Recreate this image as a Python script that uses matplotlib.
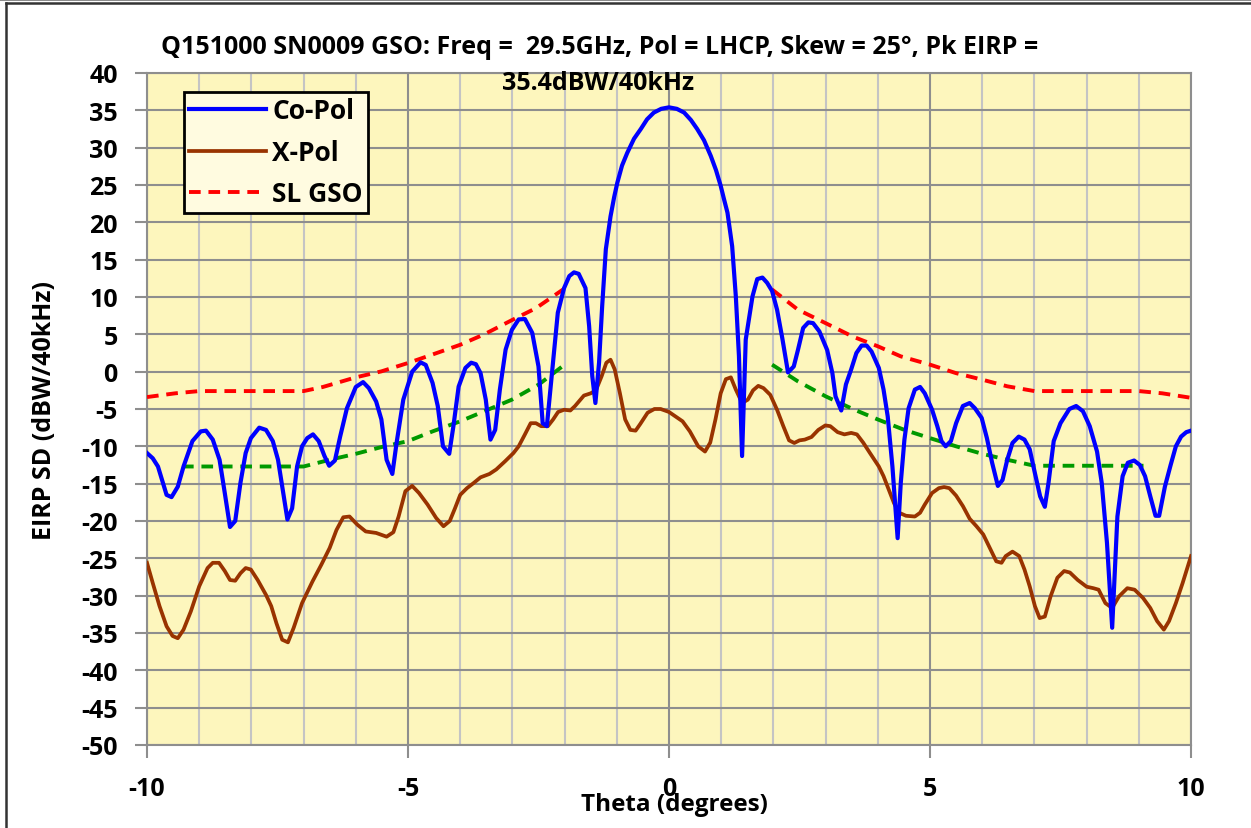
import matplotlib
matplotlib.use("Agg")
import matplotlib.pyplot as plt
from matplotlib.lines import Line2D
from matplotlib.ticker import MultipleLocator

plt.rcParams['font.family'] = ['Open Sans', 'DejaVu Sans']
plt.rcParams['font.weight'] = 'bold'
plt.rcParams['axes.unicode_minus'] = False

# Co-Pol (theta deg, EIRP dBW/40kHz)
co_x = [-10.0, -9.89, -9.79, -9.625, -9.53, -9.41, -9.30, -9.13, -8.97, -8.87, -8.74, -8.61, -8.51,
        -8.41, -8.31, -8.21, -8.11, -8.01, -7.85, -7.72, -7.59, -7.49, -7.39, -7.31, -7.22, -7.125,
        -7.03, -6.93, -6.82, -6.71, -6.6, -6.51, -6.40, -6.30, -6.17, -6.0, -5.86, -5.75, -5.61,
        -5.51, -5.41, -5.30, -5.22, -5.09, -4.92, -4.76, -4.66, -4.53, -4.43, -4.33, -4.21, -4.13,
        -4.03, -3.90, -3.79, -3.70, -3.61, -3.51, -3.42, -3.33, -3.24, -3.13, -3.01, -2.88, -2.76,
        -2.62, -2.50, -2.42, -2.34, -2.26, -2.13, -2.01, -1.91, -1.82, -1.73, -1.60, -1.53, -1.47,
        -1.41, -1.34, -1.28, -1.21, -1.12, -1.05, -0.99, -0.90, -0.80, -0.67, -0.54, -0.42, -0.29,
        -0.15, 0.0, 0.15, 0.29, 0.42, 0.54, 0.67, 0.80, 0.90, 0.99, 1.05,
        1.12, 1.21, 1.28, 1.34, 1.40, 1.47, 1.60, 1.69, 1.79, 1.88, 1.975, 2.07, 2.17, 2.28, 2.39,
        2.47, 2.57, 2.67, 2.76, 2.88, 3.03, 3.13, 3.19, 3.30, 3.39, 3.49, 3.59, 3.69, 3.785, 3.88,
        4.02, 4.11, 4.19, 4.28, 4.38, 4.44, 4.51, 4.59, 4.71, 4.81, 4.90, 5.04, 5.14, 5.22, 5.30,
        5.40, 5.50, 5.63, 5.76, 5.86, 5.99, 6.09, 6.19, 6.30, 6.39, 6.48, 6.58, 6.70, 6.81, 6.91,
        7.01, 7.11, 7.20, 7.27, 7.37, 7.50, 7.67, 7.80, 7.93, 8.06, 8.20, 8.29, 8.39, 8.49, 8.59,
        8.69, 8.79, 8.91, 9.02, 9.12, 9.22, 9.32, 9.39, 9.50, 9.61, 9.71, 9.81, 9.91, 10.0]
co_y = [-10.9, -11.6, -12.7, -16.5, -16.8, -15.4, -12.7, -9.3, -8.0, -7.9, -9.1, -11.8, -16.25,
        -20.8, -20.0, -14.9, -10.9, -8.9, -7.5, -7.8, -9.3, -11.8, -16.25, -19.8, -18.3, -12.7,
        -10.0, -8.9, -8.4, -9.3, -11.3, -12.6, -11.9, -8.7, -4.9, -2.05, -1.4, -2.2, -4.0,
        -6.4, -11.8, -13.7, -9.6, -3.75, 0.0, 1.25, 0.9, -1.5, -4.6, -10.0, -11.0, -7.3,
        -2.0, 0.5, 1.2, 1.0, -0.2, -3.75, -9.1, -7.8, -2.4, 2.95, 5.6, 7.0, 7.05,
        5.2, 0.7, -6.9, -7.3, -1.5, 7.9, 11.2, 12.8, 13.3, 13.1, 11.2, 6.1, -0.6,
        -4.2, 1.2, 8.8, 16.4, 20.8, 23.4, 25.3, 27.6, 29.3, 31.2, 32.5, 33.8, 34.7,
        35.2, 35.4, 35.2, 34.7, 33.7, 32.5, 31.0, 28.9, 27.0, 24.9, 23.2,
        21.3, 16.8, 10.1, 2.1, -11.3, 4.3, 10.1, 12.4, 12.6, 11.9, 10.8, 8.3, 4.5, -0.1, 0.7,
        2.9, 5.85, 6.6, 6.5, 5.4, 2.9, -0.2, -3.3, -5.2, -1.7, 0.3, 2.5, 3.5, 3.5, 2.7,
        0.5, -2.4, -6.0, -12.7, -22.3, -14.9, -9.1, -4.9, -2.4, -2.05, -2.9, -5.1, -7.3, -9.3, -10.0,
        -9.3, -6.9, -4.6, -4.2, -4.9, -6.2, -8.9, -12.2, -15.3, -14.5, -11.8, -9.55, -8.7, -9.1, -10.4,
        -13.6, -16.7, -18.1, -14.9, -9.3, -6.9, -5.0, -4.6, -5.3, -7.3, -10.7, -14.9, -22.9, -34.3, -19.4,
        -14.0, -12.2, -11.9, -12.5, -14.0, -16.7, -19.3, -19.3, -15.4, -12.5, -10.0, -8.7, -8.1, -7.9]

# X-Pol
xp_x = [-10.0, -9.89, -9.76, -9.625, -9.51, -9.41, -9.30, -9.16, -9.0, -8.84, -8.74, -8.62, -8.51,
        -8.41, -8.31, -8.21, -8.11, -8.01, -7.88, -7.72, -7.62, -7.52, -7.41, -7.30, -7.19, -7.03,
        -6.83, -6.66, -6.5, -6.37, -6.24, -6.12, -5.97, -5.81, -5.61, -5.41, -5.28, -5.18, -5.05,
        -4.92, -4.79, -4.625, -4.46, -4.32, -4.2, -4.10, -4.0, -3.87, -3.74, -3.61, -3.44, -3.31,
        -3.14, -2.98, -2.88, -2.76, -2.65, -2.55, -2.45, -2.32, -2.22, -2.125, -2.01, -1.89, -1.80,
        -1.63, -1.50, -1.40, -1.29, -1.20, -1.12, -1.04, -0.94, -0.84, -0.74, -0.64, -0.55, -0.41,
        -0.28, -0.16, 0.0, 0.26, 0.40, 0.56, 0.69, 0.79, 0.89, 0.99, 1.09, 1.185, 1.28, 1.40,
        1.51, 1.61, 1.71, 1.81, 1.94, 2.07, 2.19, 2.30, 2.40, 2.50, 2.60, 2.73, 2.86, 2.995,
        3.09, 3.23, 3.36, 3.49, 3.60, 3.72, 3.85, 4.02, 4.11, 4.21, 4.31, 4.41, 4.54, 4.71,
        4.81, 4.90, 5.04, 5.17, 5.27, 5.37, 5.50, 5.63, 5.76, 5.89, 6.02, 6.16, 6.27, 6.37,
        6.45, 6.58, 6.71, 6.81, 6.91, 7.01, 7.10, 7.20, 7.31, 7.44, 7.57, 7.68, 7.83, 8.0,
        8.13, 8.23, 8.36, 8.49, 8.62, 8.78, 8.92, 9.08, 9.22, 9.35, 9.48, 9.58, 9.71, 9.84, 10.0]
xp_y = [-25.6, -28.3, -31.4, -34.1, -35.4, -35.7, -34.55, -32.1, -28.75, -26.3, -25.6, -25.6, -26.7,
        -27.9, -28.0, -27.0, -26.3, -26.5, -27.9, -29.9, -31.4, -33.7, -35.9, -36.25, -34.3, -31.0,
        -28.1, -25.85, -23.6, -21.2, -19.5, -19.4, -20.5, -21.4, -21.6, -22.1, -21.5, -19.4, -16.0,
        -15.3, -16.25, -17.8, -19.6, -20.7, -20.0, -18.3, -16.5, -15.6, -14.9, -14.15, -13.7, -13.1,
        -12.0, -10.9, -10.0, -8.4, -6.9, -6.9, -7.3, -7.3, -6.4, -5.4, -5.1, -5.2, -4.6,
        -3.2, -2.9, -2.5, -0.6, 1.2, 1.6, 0.3, -2.9, -6.4, -7.8, -7.9, -7.0, -5.5,
        -5.0, -5.0, -5.4, -6.65, -8.0, -10.0, -10.7, -9.5, -6.4, -2.9, -1.0, -0.76, -2.4, -4.2,
        -3.75, -2.5, -1.9, -2.2, -3.1, -5.1, -7.3, -9.2, -9.55, -9.2, -9.1, -8.75, -7.8, -7.2,
        -7.3, -8.1, -8.4, -8.2, -8.4, -9.5, -10.9, -12.7, -14.0, -15.8, -17.6, -18.9, -19.3, -19.4,
        -18.9, -17.8, -16.25, -15.6, -15.45, -15.6, -16.6, -18.0, -19.7, -20.7, -21.8, -23.8, -25.4, -25.6,
        -24.7, -24.1, -24.7, -26.5, -28.75, -31.4, -33.0, -32.8, -30.1, -27.6, -26.7, -26.9, -27.9, -28.8,
        -29.0, -29.2, -31.0, -31.65, -30.1, -29.0, -29.2, -30.3, -31.65, -33.4, -34.55, -33.4, -31.0, -28.3, -24.7]

# SL GSO mask (two branches)
sl_left_x = [-10.0, -9.46, -9.0, -7.0, -6.63, -6.0, -5.51, -5.0, -4.53, -4.0, -3.54, -3.01, -2.55, -2.01]
sl_left_y = [-3.4, -2.9, -2.6, -2.6, -2.05, -0.76, 0.04, 1.16, 2.3, 3.6, 5.0, 6.9, 8.5, 11.1]
sl_right_x = [1.975, 2.47, 3.0, 3.52, 4.0, 4.44, 5.0, 5.5, 6.0, 6.48, 7.0, 9.0, 9.45, 10.0]
sl_right_y = [11.0, 8.3, 6.5, 4.7, 3.4, 2.05, 0.94, -0.2, -1.07, -1.96, -2.6, -2.6, -2.9, -3.5]

# green mask (unlabelled)
gr_left_x = [-9.33, -7.0, -6.5, -6.0, -5.51, -5.0, -4.53, -4.0, -3.54, -3.01, -2.49, -2.0]
gr_left_y = [-12.7, -12.7, -11.8, -11.0, -10.1, -9.3, -8.0, -6.65, -5.3, -3.75, -1.7, 0.94]
gr_right_x = [1.975, 2.47, 3.0, 3.52, 4.0, 4.51, 5.0, 5.5, 6.0, 6.48, 7.0, 9.09]
gr_right_y = [0.94, -1.3, -3.3, -5.0, -6.4, -7.8, -8.9, -10.0, -11.0, -11.8, -12.6, -12.6]

W, H = 1251, 829
fig = plt.figure(figsize=(W / 100, H / 100), dpi=100)
ax = fig.add_axes([147 / W, 1 - 746 / H, (1191 - 147) / W, (746 - 74) / H])
ax.set_facecolor('#fdf6bd')

ax.set_xlim(-10, 10)
ax.set_ylim(-50, 40)
ax.xaxis.set_major_locator(MultipleLocator(5))
ax.xaxis.set_minor_locator(MultipleLocator(1))
ax.yaxis.set_major_locator(MultipleLocator(5))
ax.grid(which='minor', axis='x', color='#c4c4c4', lw=1.5, zorder=0)
ax.grid(which='major', color='#8e8e8e', lw=1.5, zorder=0)
ax.tick_params(axis='x', which='minor', length=0)
ax.tick_params(axis='x', which='major', length=9, width=1.5, color='#8e8e8e', pad=13, labelsize=18)
ax.tick_params(axis='y', length=9, width=1.5, color='#8e8e8e', pad=12, labelsize=18)
for lab in ax.get_xticklabels() + ax.get_yticklabels():
    lab.set_fontweight('bold')
for s in ax.spines.values():
    s.set_color('#8e8e8e')
    s.set_linewidth(1.5)

ax.plot(co_x, co_y, color='#0000ff', lw=3.0, label='Co-Pol', zorder=4)
ax.plot(xp_x, xp_y, color='#993300', lw=2.7, label='X-Pol', zorder=3)
ax.plot(sl_left_x, sl_left_y, color='#ff0000', lw=2.8, ls=(0, (3, 2)), label='SL GSO', zorder=3)
ax.plot(sl_right_x, sl_right_y, color='#ff0000', lw=2.8, ls=(0, (3, 2)), zorder=3)
ax.plot(gr_left_x, gr_left_y, color='#009900', lw=2.8, ls=(0, (3, 2)), zorder=3)
ax.plot(gr_right_x, gr_right_y, color='#009900', lw=2.8, ls=(0, (3, 2)), zorder=3)

leg = ax.legend(loc='upper left', bbox_to_anchor=((184 - 147) / 1044, (746 - 93) / 672),
                prop={'size': 19, 'weight': 'bold'}, frameon=True, fancybox=False,
                handlelength=2.9, handletextpad=0.25, borderpad=0.2, labelspacing=0.55,
                borderaxespad=0)
leg.get_frame().set_edgecolor('black')
leg.get_frame().set_linewidth(2)
leg.get_frame().set_facecolor('#fffbe0')
leg.get_frame().set_alpha(1)

fig.text(600 / W, 1 - 47 / H,
         'Q151000 SN0009 GSO: Freq =  29.5GHz, Pol = LHCP, Skew = 25°, Pk EIRP =',
         ha='center', va='center', fontsize=18, fontweight='bold')
fig.text(598 / W, 1 - 83 / H, '35.4dBW/40kHz', ha='center', va='center',
         fontsize=18, fontweight='bold')
fig.text(674 / W, 1 - 805 / H, 'Theta (degrees)', ha='center', va='center',
         fontsize=17.5, fontweight='bold')
fig.text(45 / W, 1 - 410 / H, 'EIRP SD (dBW/40kHz)', ha='center', va='center',
         rotation=90, fontsize=18, fontweight='bold')

# outer frame
fig.add_artist(Line2D([6 / W, 6 / W], [0, 1 - 4 / H], color='#333333', lw=1.8))
fig.add_artist(Line2D([6 / W, 1], [1 - 4 / H, 1 - 4 / H], color='#333333', lw=1.8))
fig.add_artist(Line2D([0, 1], [1 - 1 / H, 1 - 1 / H], color='#777777', lw=1.2))

fig.savefig('out.png', dpi=100)
